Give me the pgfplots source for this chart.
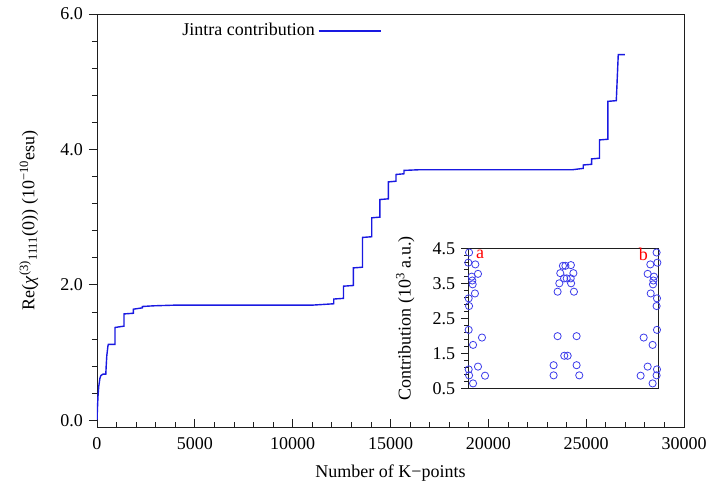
\documentclass[border=0pt]{standalone}
\usepackage{fontspec}
\setmainfont{Liberation Serif}
\usepackage{pgfplots}
\pgfplotsset{compat=1.18}
\definecolor{curveblue}{RGB}{25,25,225}
\definecolor{circblue}{RGB}{60,60,235}
\definecolor{axgray}{RGB}{30,30,30}
\begin{document}
\fontsize{18bp}{21bp}\selectfont
\begin{tikzpicture}
\begin{axis}[
  at={(0bp,0bp)}, anchor=south west,
  scale only axis, width=587bp, height=413bp,
  font=\fontsize{18bp}{21bp}\selectfont,
  xmin=0, xmax=30000, ymin=-0.1, ymax=6,
  xtick={0,5000,10000,15000,20000,25000,30000},
  ytick={0,2,4,6},
  minor x tick num=4, minor y tick num=4,
  xtick pos=bottom, ytick pos=left,
  xtick align=inside, ytick align=outside,
  major tick length=8bp, minor tick length=5bp,
  axis line style={axgray, line width=0.9bp},
  every tick/.style={axgray, line width=0.8bp},
  scaled x ticks=false,
  xticklabel style={yshift=-4bp, /pgf/number format/.cd, set thousands separator={}, assume math mode=true},
  yticklabel style={/pgf/number format/.cd, fixed, fixed zerofill, precision=1, assume math mode=true},
  xlabel={Number of K−points},
  ylabel={Re(\textit{χ}\textsuperscript{(3)}\textsubscript{1111}(0)) (10\textsuperscript{−10}esu)},
  xlabel style={yshift=-3bp},
  ylabel style={yshift=10bp},
  legend plot pos=right,
  legend image code/.code={\path (0bp,0bp) -- (12bp,0bp); \draw[#1] (12bp,0bp) -- (62bp,0bp);},
  legend style={draw=none, fill=none, at={(0.14,0.959)}, anchor=west,
    inner sep=0pt, nodes={inner sep=3bp}, font=\fontsize{18bp}{21bp}\selectfont},
]
\addplot[curveblue, line width=1.4bp] coordinates {
(0,0) (20,0.15) (50,0.35) (90,0.5) (150,0.62) (200,0.66) (300,0.68) (450,0.68)
(470,0.8) (500,0.95) (560,1.1) (580,1.12) (920,1.12) (920,1.37) (1380,1.39)
(1380,1.57) (1860,1.58) (1860,1.64) (2320,1.66) (2320,1.68) (2900,1.69)
(4000,1.70) (6000,1.70) (8000,1.70) (10000,1.70) (11000,1.70) (12100,1.72)
(12100,1.79) (12600,1.80) (12600,1.98) (13100,1.99) (13100,2.25) (13570,2.26)
(13570,2.70) (14040,2.71) (14040,2.99) (14460,3.00) (14460,3.26) (14890,3.27)
(14890,3.52) (15280,3.53) (15280,3.63) (15690,3.64) (15690,3.69) (16500,3.70)
(20000,3.70) (24300,3.70) (24850,3.72) (24850,3.77) (25280,3.78) (25280,3.86)
(25680,3.87) (25680,4.14) (26110,4.15) (26110,4.71) (26540,4.72) (26640,5.40)
(26980,5.40)
};
\addlegendentry{Jintra contribution}
\end{axis}
\begin{axis}[
  at={(371.3bp,38.7bp)}, anchor=south west,
  scale only axis, width=190bp, height=140bp,
  font=\fontsize{18bp}{21bp}\selectfont,
  xmin=0, xmax=1, ymin=0.5, ymax=4.5,
  xtick=\empty,
  ytick={0.5,1.5,2.5,3.5,4.5},
  minor y tick num=4,
  ytick pos=left, ytick align=outside,
  major tick length=7bp, minor tick length=4bp,
  axis line style={axgray, line width=1.2bp},
  every tick/.style={axgray, line width=0.8bp},
  axis background/.style={fill=white},
  clip=false,
  yticklabel style={/pgf/number format/.cd, fixed, fixed zerofill, precision=1, assume math mode=true},
  ylabel={Contribution (10\textsuperscript{3} a.u.)},
  ylabel style={yshift=6bp},
]
\addplot[only marks, mark=o, mark size=3.6bp, circblue, mark options={line width=0.8bp}] coordinates {
(0.004,4.38) (0.000,4.09) (0.037,4.04) (0.051,3.77) (0.018,3.69) (0.021,3.58)
(0.023,3.47) (0.035,3.21) (0.002,3.07) (0.004,2.85) (0.002,2.17) (0.072,1.95)
(0.025,1.74) (0.051,1.12) (0.002,1.04) (0.004,0.87) (0.088,0.86) (0.025,0.64)
(0.498,4.00) (0.511,4.00) (0.540,4.02) (0.484,3.79) (0.553,3.79)
(0.504,3.64) (0.518,3.64) (0.539,3.64) (0.479,3.50) (0.541,3.50)
(0.470,3.26) (0.556,3.26) (0.470,1.99) (0.570,1.99) (0.505,1.43) (0.523,1.43)
(0.449,1.16) (0.570,1.16) (0.449,0.87) (0.584,0.87)
(0.991,4.38) (0.995,4.09) (0.958,4.04) (0.944,3.77) (0.977,3.69) (0.974,3.58)
(0.972,3.47) (0.960,3.21) (0.993,3.07) (0.991,2.85) (0.993,2.17) (0.923,1.95)
(0.970,1.74) (0.944,1.12) (0.993,1.04) (0.991,0.87) (0.907,0.86) (0.970,0.64)
};
\node[red, anchor=center, inner sep=0pt] at (axis cs:0.062,4.34) {a};
\node[red, anchor=center, inner sep=0pt] at (axis cs:0.921,4.34) {b};
\end{axis}
\pgfresetboundingbox
\path (-97bp,-64bp) rectangle (613bp,427bp);
\end{tikzpicture}
\end{document}
